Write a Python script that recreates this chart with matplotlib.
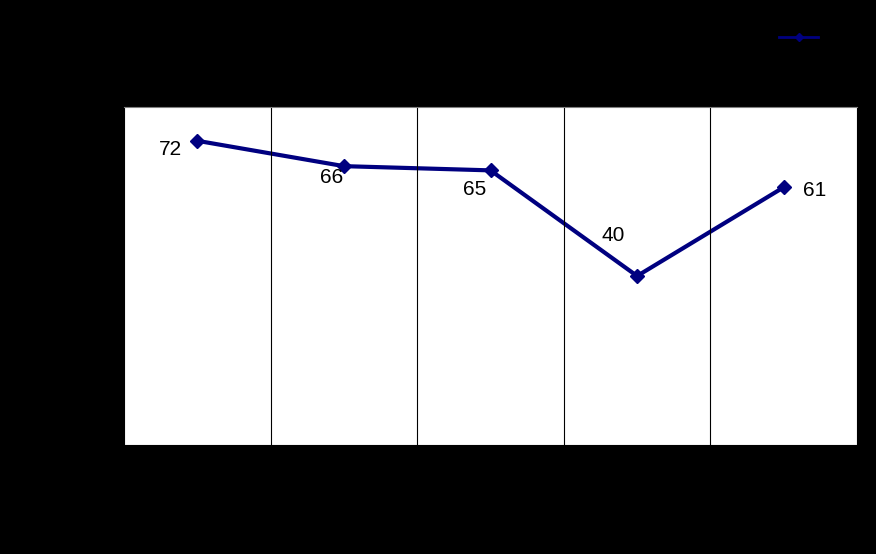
import matplotlib
matplotlib.use("Agg")
import matplotlib.pyplot as plt
from matplotlib.lines import Line2D
import numpy as np

categories = ["1", "2", "3", "4", "5"]
values = [72, 66, 65, 40, 61]
series_name = "Series"
label_offsets = [(-19, -6), (-9, -8), (-11.5, -14), (-17, 29), (22, -2.2)]

plt.rcParams['font.family'] = ['Liberation Sans', 'DejaVu Sans']

fig = plt.figure(figsize=(8.76, 5.54), dpi=100, facecolor='black')
ax = fig.add_axes([124/876, 1-445/554, (857-124)/876, (445-107)/554])
ax.set_facecolor('white')

x = np.arange(len(categories))
ax.plot(x, values, color='#000080', lw=3, marker='D', markersize=7)
ax.set_xlim(-0.5, len(categories)-0.5)
ax.set_ylim(0, 80)
for b in np.arange(0.5, len(categories)-0.5, 1):
    ax.axvline(b, color='black', lw=0.8)

for xi, v, (dx, dy) in zip(x, values, label_offsets):
    ax.annotate(str(v), (xi, v), xytext=(dx, dy), textcoords='offset points',
                ha='center', va='center', fontsize=15, color='black')

ax.set_xticks(x)
ax.set_xticklabels(categories, color='black')
ax.tick_params(axis='both', colors='black', length=0)
ax.set_yticks([])
for s in ax.spines.values():
    s.set_color('black')
ax.spines['top'].set_color('#808080')

proxy = Line2D([], [], color='#000080', lw=2, marker='D', markersize=4)
leg = fig.legend([proxy], [series_name], loc='upper right', bbox_to_anchor=(1.006, 0.967),
                 frameon=False, handlelength=2.8, fontsize=10, labelcolor='black')
fig.savefig("out.png", dpi=100, facecolor='black')
